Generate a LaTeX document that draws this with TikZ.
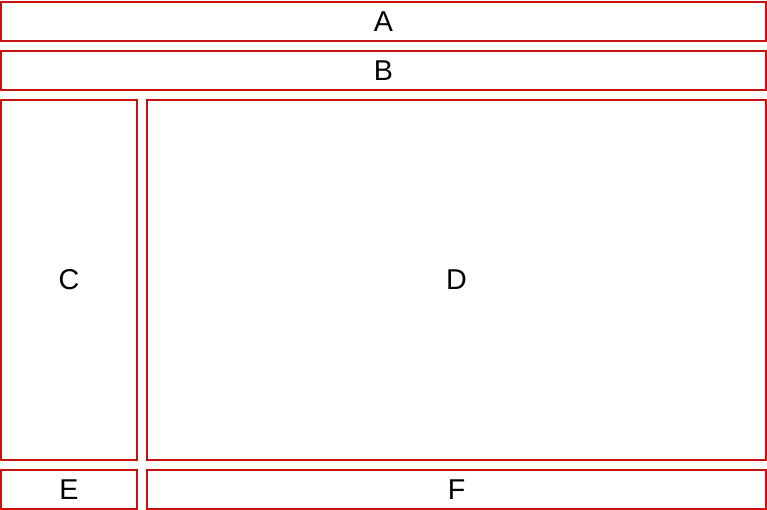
\documentclass[tikz,border=0pt]{standalone}
\usepackage{fontspec}
\setmainfont{Liberation Sans}
\usepackage{tikz}
\usetikzlibrary{positioning}

\definecolor{panelred}{RGB}{200,18,18}

\begin{document}
\begin{tikzpicture}[x=0.75pt, y=-0.75pt,
    panel/.style={draw=panelred, line width=1.8pt, inner sep=0pt, font=\fontsize{21.5}{24}\selectfont}]

% Page frame
\useasboundingbox (0,0) rectangle (767,510);

% Top bars
\node[panel, minimum width=765*0.75pt, minimum height=39*0.75pt] (barA) at (383.5,21.5) {A};
\node[panel, minimum width=765*0.75pt, minimum height=39*0.75pt] (barB) at (383.5,70.5) {B};

% Middle panels
\node[panel, minimum width=136*0.75pt, minimum height=360*0.75pt] (sideC) at (69,280) {C};
\node[panel, minimum width=619*0.75pt, minimum height=360*0.75pt] (mainD) at (456.5,280) {D};

% Bottom bars
\node[panel, minimum width=136*0.75pt, minimum height=39*0.75pt] (footE) at (69,489.5) {E};
\node[panel, minimum width=619*0.75pt, minimum height=39*0.75pt] (footF) at (456.5,489.5) {F};

\end{tikzpicture}
\end{document}
